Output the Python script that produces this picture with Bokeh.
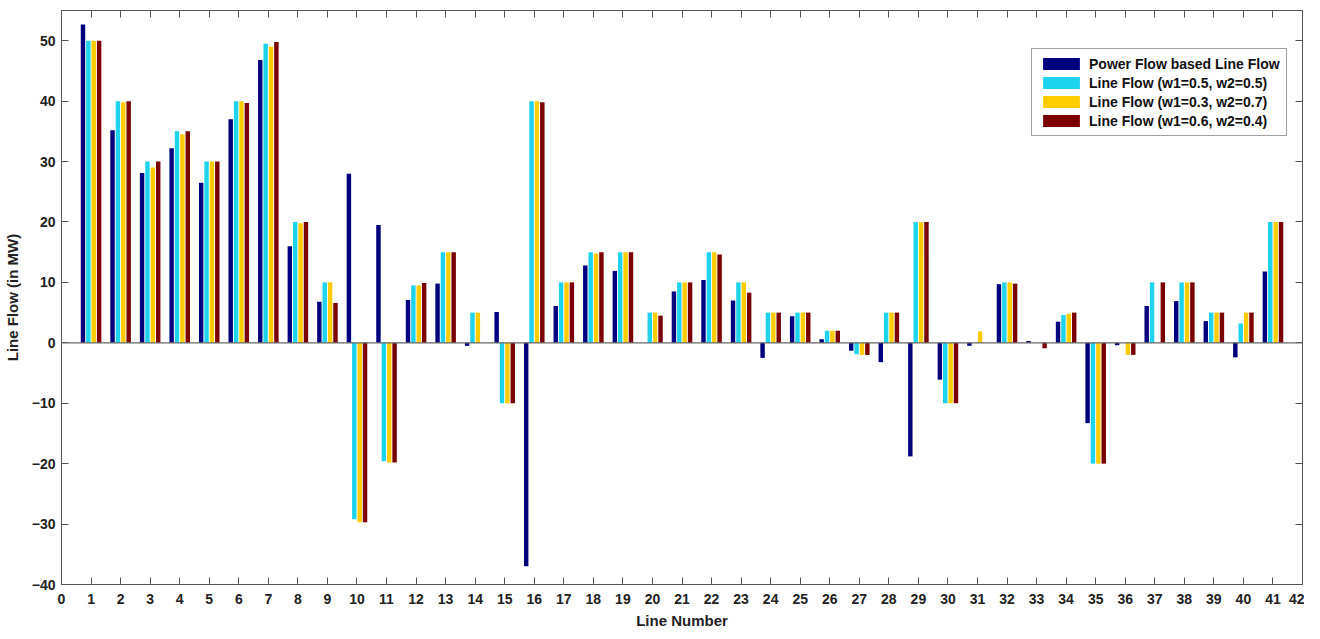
from bokeh.plotting import figure
from bokeh.models import (LinearAxis, Span, Legend, LegendItem, FixedTicker, Range1d,
                          ColumnDataSource, CustomJSTickFormatter, CustomLabelingPolicy)
from bokeh.transform import dodge
from bokeh.embed import file_html
from bokeh.resources import INLINE

line_number = list(range(1, 42))
power_flow = [52.7, 35.2, 28.1, 32.2, 26.5, 37.0, 46.8, 16.0, 6.8, 28.0,
              19.5, 7.1, 9.8, -0.5, 5.1, -37.0, 6.1, 12.8, 11.9, 0.0,
              8.5, 10.4, 7.0, -2.5, 4.4, 0.6, -1.3, -3.2, -18.8, -6.1,
              -0.5, 9.7, 0.3, 3.5, -13.3, -0.4, 6.1, 6.9, 3.6, -2.4, 11.8]
flow_w05_05 = [50, 40, 30, 35, 30, 40, 49.5, 20, 10, -29.2,
               -19.6, 9.5, 15, 5, -10, 40, 10, 15, 15, 5,
               10, 15, 10, 5, 5, 2, -1.9, 5, 20, -10,
               0, 10, 0, 4.6, -20, 0, 10, 10, 5, 3.2, 20]
flow_w03_07 = [50, 39.8, 29.0, 34.5, 30, 40, 49.0, 19.8, 10, -29.7,
               -19.8, 9.5, 15, 5, -10, 40, 10, 14.8, 15, 5,
               10, 15, 10, 5, 5, 2, -2.0, 5, 20, -10,
               1.9, 10, 0, 4.8, -20, -2.0, 0, 10, 5, 5, 20]
flow_w06_04 = [50, 40, 30, 35, 30, 39.7, 49.8, 20, 6.6, -29.7,
               -19.8, 9.9, 15, 0, -10, 39.8, 10, 15, 15, 4.5,
               10, 14.6, 8.3, 5, 5, 2, -2.0, 5, 20, -10,
               0, 9.8, -0.9, 5, -20, -2.0, 10, 10, 5, 5, 20]

series_names = ["Power Flow based Line Flow", "Line Flow (w1=0.5, w2=0.5)",
                "Line Flow (w1=0.3, w2=0.7)", "Line Flow (w1=0.6, w2=0.4)"]
x_ticks = list(range(0, 43))
y_ticks = list(range(-40, 51, 10))

colors = ["#00007F", "#1ED3EE", "#FFCC00", "#7A0000"]
offsets = [-0.273, -0.091, 0.091, 0.273]

src = ColumnDataSource(dict(line=line_number, pf=power_flow, a=flow_w05_05,
                            b=flow_w03_07, c=flow_w06_04))

p = figure(width=1304, height=631, output_backend="svg", toolbar_location=None,
           x_range=Range1d(0, 42), y_range=Range1d(-40, 55),
           min_border_left=10, min_border_right=2, min_border_top=10, min_border_bottom=0)
p.grid.visible = False
p.outline_line_color = "#555555"

renderers = []
for col, off, colr in zip(["pf", "a", "b", "c"], offsets, colors):
    r = p.vbar(x=dodge("line", off, range=p.x_range), top=col, bottom=0, width=0.15,
               source=src, fill_color=colr, line_color=None)
    renderers.append(r)

p.add_layout(Span(location=0, dimension="width", line_color="#666666", line_width=1.2))

tick_font = "Liberation Sans"
for ax in [p.xaxis[0], p.yaxis[0]]:
    ax.major_tick_in = 7
    ax.major_tick_out = 0
    ax.minor_tick_line_color = None
    ax.axis_line_color = "#555555"
    ax.major_tick_line_color = "#555555"
    ax.major_label_text_font = tick_font
    ax.major_label_text_font_style = "bold"
    ax.major_label_text_font_size = "14px"
    ax.major_label_text_color = "#222222"
    ax.axis_label_text_font = "Liberation Sans"
    ax.axis_label_text_font_style = "bold"
    ax.axis_label_text_font_size = "15px"
    ax.axis_label_text_color = "#222222"

p.xaxis[0].ticker = FixedTicker(ticks=x_ticks)
p.yaxis[0].ticker = FixedTicker(ticks=y_ticks)
p.xaxis[0].axis_label = "Line Number"
p.yaxis[0].axis_label = "Line Flow (in MW)"
p.xaxis[0].major_label_standoff = 9
p.xaxis[0].axis_label_standoff = 5
p.yaxis[0].major_label_standoff = 6
p.yaxis[0].axis_label_standoff = 8

blank = CustomJSTickFormatter(code="return '';")
no_labels = CustomLabelingPolicy(code="for (const i of indices) { indices.unset(i) }\nreturn indices")
top_ax = LinearAxis(ticker=FixedTicker(ticks=x_ticks), formatter=blank,
                    major_label_policy=no_labels,
                    major_tick_in=7, major_tick_out=0,
                    minor_tick_line_color=None, major_label_text_font_size="1px",
                    axis_line_color="#555555", major_tick_line_color="#555555",
                    major_label_standoff=0)
right_ax = LinearAxis(ticker=FixedTicker(ticks=y_ticks), formatter=blank,
                      major_label_policy=no_labels,
                      major_tick_in=7, major_tick_out=0,
                      minor_tick_line_color=None, major_label_text_font_size="1px",
                      axis_line_color="#555555", major_tick_line_color="#555555",
                      major_label_standoff=0)
p.add_layout(top_ax, "above")
p.add_layout(right_ax, "right")

items = [LegendItem(label=n, renderers=[r]) for n, r in zip(series_names, renderers)]
legend = Legend(items=items, location=(970, 448), glyph_width=46, glyph_height=15,
                label_text_font="Liberation Sans", label_text_font_style="bold",
                label_text_font_size="14px", label_text_color="#111111",
                spacing=2, padding=6, label_height=17, label_standoff=5,
                border_line_color="#444444", border_line_width=1,
                background_fill_color="white", background_fill_alpha=1.0)
p.add_layout(legend, "center")

open("out.html", "w").write(file_html(p, INLINE))
